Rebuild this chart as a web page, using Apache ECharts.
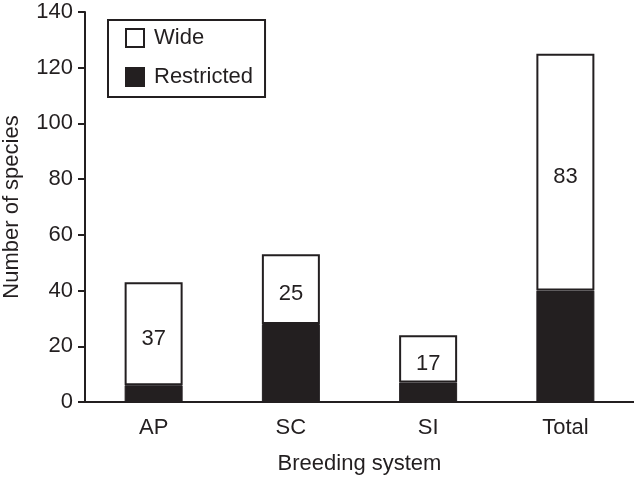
<!DOCTYPE html>
<html>
<head>
<meta charset="utf-8">
<script src="https://cdn.jsdelivr.net/npm/echarts@6/dist/echarts.min.js"></script>
<style>
html,body{margin:0;padding:0;background:#fff;}
#chart{width:634px;height:477px;}
</style>
</head>
<body>
<div id="chart"></div>
<script>
const categories = ['AP', 'SC', 'SI', 'Total'];
const restricted = [6, 28, 7, 40];
const wide = [37, 25, 17, 85];
const wideLabels = ['37', '25', '17', '83'];
const yTicks = [0, 20, 40, 60, 80, 100, 120, 140];

const ink = '#231f20';
const font = 'Liberation Sans, Arial, Helvetica, sans-serif';

const chart = echarts.init(document.getElementById('chart'), null, {renderer: 'canvas'});
chart.setOption({
  backgroundColor: '#fff',
  animation: false,
  textStyle: {fontFamily: font, color: ink},
  grid: {left: 85, right: 0, top: 12, bottom: 75, containLabel: false, outerBoundsMode: 'none'},
  legend: {
    orient: 'vertical',
    left: 108, top: 20,
    data: ['Wide', 'Restricted'],
    itemWidth: 18, itemHeight: 18, itemGap: 17,
    borderColor: ink, borderWidth: 2,
    padding: [7, 12, 9, 17],
    icon: 'rect',
    textStyle: {fontFamily: font, fontSize: 22, color: ink, padding: [0, 0, 0, 5]}
  },
  xAxis: {
    type: 'category',
    data: categories,
    name: 'Breeding system',
    nameLocation: 'middle',
    nameGap: 51,
    nameTextStyle: {fontFamily: font, fontSize: 22, color: ink},
    axisLine: {lineStyle: {color: ink, width: 2}},
    axisTick: {inside: true, length: 7, lineStyle: {color: ink, width: 2}},
    axisLabel: {fontFamily: font, fontSize: 22, color: ink, margin: 15}
  },
  yAxis: {
    type: 'value',
    min: yTicks[0], max: yTicks[yTicks.length - 1], interval: 20,
    name: 'Number of species',
    nameLocation: 'middle',
    nameGap: 62,
    nameTextStyle: {fontFamily: font, fontSize: 22, color: ink},
    axisLine: {show: true, lineStyle: {color: ink, width: 2}},
    axisTick: {show: true, length: 7, lineStyle: {color: ink, width: 2}},
    axisLabel: {fontFamily: font, fontSize: 22, color: ink, margin: 12},
    splitLine: {show: false}
  },
  series: [
    {
      name: 'Restricted', type: 'bar', stack: 's', data: restricted,
      barWidth: 58,
      itemStyle: {color: ink, borderColor: ink, borderWidth: 1}
    },
    {
      name: 'Wide', type: 'bar', stack: 's', data: wide,
      barWidth: 58,
      itemStyle: {color: '#ffffff', borderColor: ink, borderWidth: 2},
      label: {
        show: true, position: 'inside', offset: [0, 5],
        fontFamily: font, fontSize: 22, color: ink,
        formatter: p => wideLabels[p.dataIndex]
      }
    }
  ]
});
</script>
</body>
</html>
